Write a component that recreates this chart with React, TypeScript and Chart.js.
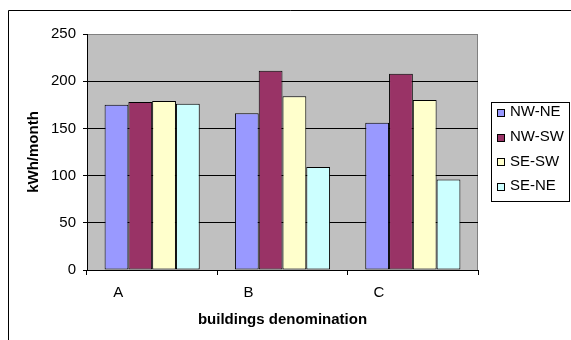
import React, { useEffect, useRef } from "react";
import { Chart, registerables } from "chart.js";

Chart.register(...registerables);

// Monthly consumption per building and facade orientation pair
const categories = ["A", "B", "C"];
const seriesNames = ["NW-NE", "NW-SW", "SE-SW", "SE-NE"];
const nwNe = [175, 166, 156];
const nwSw = [178, 211, 208];
const seSw = [179, 184, 180];
const seNe = [176, 109, 96];
const seriesColors = ["#9999FF", "#993366", "#FFFFCC", "#CCFFFF"];
const yTicks = [0, 50, 100, 150, 200, 250];

const FONT = "'Liberation Sans', Arial, Helvetica, sans-serif";

// Gray plot background, plot frame and outer chart frame
const framePlugin = {
  id: "frame",
  beforeDraw(chart: any) {
    const { ctx, chartArea } = chart;
    ctx.save();
    ctx.fillStyle = "#ffffff";
    ctx.fillRect(0, 0, chart.width, chart.height);
    ctx.fillStyle = "#C0C0C0";
    ctx.fillRect(chartArea.left, chartArea.top, chartArea.right - chartArea.left, chartArea.bottom - chartArea.top);
    ctx.strokeStyle = "#808080";
    ctx.lineWidth = 1;
    ctx.beginPath();
    ctx.moveTo(Math.round(chartArea.right) - 0.5, chartArea.top);
    ctx.lineTo(Math.round(chartArea.right) - 0.5, chartArea.bottom);
    ctx.stroke();
    ctx.restore();
  },
  afterDraw(chart: any) {
    const { ctx } = chart;
    ctx.save();
    ctx.strokeStyle = "#000000";
    ctx.lineWidth = 1;
    ctx.beginPath();
    ctx.moveTo(8.5, chart.height + 2);
    ctx.lineTo(8.5, 10.5);
    ctx.lineTo(chart.width + 2, 10.5);
    ctx.stroke();
    ctx.restore();
  },
};

// Boxed legend at the right, built from the datasets
const legendPlugin = {
  id: "boxLegend",
  afterDraw(chart: any) {
    const { ctx } = chart;
    const box = { x: 491.5, y: 102.5, w: 78, h: 99 };
    ctx.save();
    ctx.strokeStyle = "#000000";
    ctx.lineWidth = 1;
    ctx.strokeRect(box.x, box.y, box.w, box.h);
    ctx.font = `15px ${FONT}`;
    ctx.textBaseline = "middle";
    ctx.textAlign = "left";
    chart.data.datasets.forEach((ds: any, i: number) => {
      const cy = 112 + i * 24.7;
      ctx.fillStyle = ds.backgroundColor;
      ctx.fillRect(497, Math.round(cy) - 3, 7, 7);
      ctx.strokeStyle = "#000000";
      ctx.strokeRect(497.5, Math.round(cy) - 2.5, 7, 7);
      ctx.fillStyle = "#000000";
      ctx.fillText(ds.label, 510, cy);
    });
    ctx.restore();
  },
};

export default function App() {
  const canvasRef = useRef<HTMLCanvasElement | null>(null);

  useEffect(() => {
    if (!canvasRef.current) return;
    const values = [nwNe, nwSw, seSw, seNe];
    const chart = new Chart(canvasRef.current, {
      type: "bar",
      data: {
        labels: categories,
        datasets: seriesNames.map((name, i) => ({
          label: name,
          data: values[i],
          backgroundColor: seriesColors[i],
          borderColor: "#000000",
          borderWidth: 1,
          borderSkipped: false,
          categoryPercentage: 0.73,
          barPercentage: 1.0,
        })),
      },
      options: {
        animation: false,
        responsive: true,
        maintainAspectRatio: false,
        layout: { padding: { left: 0, top: 34, right: 93, bottom: 0 } },
        plugins: {
          legend: { display: false },
          tooltip: { enabled: false },
        },
        scales: {
          x: {
            offset: true,
            grid: {
              offset: true,
              drawOnChartArea: false,
              drawTicks: true,
              tickLength: 5,
              tickColor: "#000000",
              color: "#000000",
            },
            border: { display: true, color: "#000000", width: 1 },
            ticks: {
              color: "#000000",
              font: { family: FONT, size: 15 },
              padding: 9,
              labelOffset: -34,
              maxRotation: 0,
            },
            title: {
              display: true,
              text: "buildings denomination",
              color: "#000000",
              font: { family: FONT, size: 15, weight: "bold" },
              padding: { top: 9, bottom: 11 },
            },
            afterFit(scale: any) {
              scale.height = 70;
            },
          },
          y: {
            min: 0,
            max: 250,
            afterBuildTicks(scale: any) {
              scale.ticks = yTicks.map((v) => ({ value: v }));
            },
            grid: {
              color: (c: any) => (c.tick && c.tick.value === 250 ? "#808080" : "#000000"),
              tickColor: "#000000",
              tickLength: 4,
              drawTicks: true,
            },
            border: { display: true, color: "#000000", width: 1 },
            ticks: {
              color: "#000000",
              font: { family: FONT, size: 15 },
              padding: 7,
            },
            title: {
              display: true,
              text: "kWh/month",
              color: "#000000",
              font: { family: FONT, size: 15, weight: "bold" },
              padding: { top: 25, bottom: 0 },
            },
            afterFit(scale: any) {
              scale.width = 87;
            },
          },
        },
      },
      plugins: [framePlugin, legendPlugin],
    });
    return () => chart.destroy();
  }, []);

  return (
    <div style={{ position: "absolute", left: 0, top: 0, width: 571, height: 340 }}>
      <canvas ref={canvasRef} />
    </div>
  );
}
